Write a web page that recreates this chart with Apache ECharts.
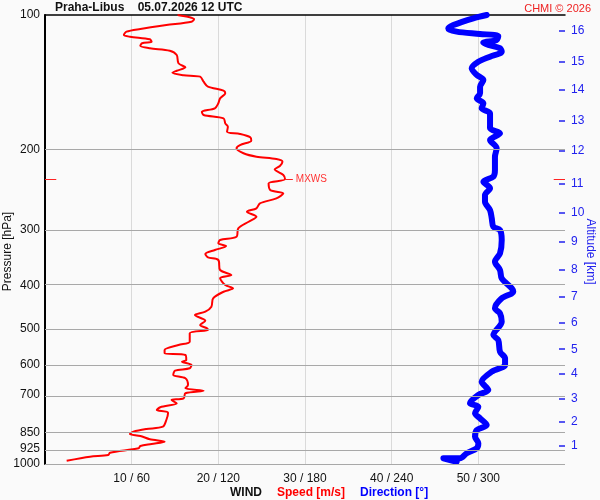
<!DOCTYPE html>
<html>
<head>
<meta charset="utf-8">
<script src="https://cdn.jsdelivr.net/npm/echarts@6.0.0/dist/echarts.min.js"></script>
<style>
  html, body { margin: 0; padding: 0; background: #fafafa; }
  #chart { width: 600px; height: 500px; }
</style>
</head>
<body>
<div id="chart"></div>
<script>
// pressure levels (hPa) shown on the left axis
var pLevels = [100, 200, 300, 400, 500, 600, 700, 850, 925, 1000];
// altitude ticks (km) and their pressure (hPa) for the right axis
var altKm = [1, 2, 3, 4, 5, 6, 7, 8, 9, 10, 11, 12, 13, 14, 15, 16];
var altP = [912, 806, 717, 630, 555, 485, 425, 370, 320, 276, 237, 201, 172, 147, 127, 108.5];
// bottom tick labels
var speedTicks = [10, 20, 30, 40, 50];
var dirTicks = [60, 120, 180, 240, 300];

// wind speed profile
var speedP = [100, 101.2, 102.2, 103.5, 105.3, 107.4, 108.9, 110.8, 111.8, 113.3, 114.7, 115.6, 117.1, 118.6, 120.1, 122.8,
  128.1, 130.8, 133.1, 134.5, 136.2, 137.2, 140.8, 144.4, 147.4, 149.4, 153.3, 157.3, 161.4, 164.2, 167, 169.9,
  174.3, 177.4, 182, 184.1, 187.3, 190.5, 194.8, 198.1, 203.2, 206.8, 209.3, 212.2, 216.9, 220.7, 227.2, 232.3,
  237.1, 245.4, 249.6, 256.1, 262.7, 269.5, 274.3, 281.4, 288.7, 298.7, 311.8, 317.1, 322.5, 327, 333.8, 340.7,
  346.5, 351.3, 369.8, 379.4, 385.9, 399.4, 406.2, 413.4, 427.6, 446.4, 458, 465.9, 479.6, 490.3, 498.7, 503,
  511.6, 534.1, 543.3, 557.4, 567, 571.8, 586.7, 591.8, 601.8, 612.1, 619.7, 633.5, 644.3, 667, 678.3, 686.7,
  695.9, 714, 720.3, 732.5, 747.7, 758.1, 768.7, 798, 825.9, 835.6, 847.2, 857.4, 866.1, 881, 891.8, 902.5,
  911.7, 922.7, 943.6, 954.9, 963.2, 983.3];
var speed = [15.3, 16.7, 17.2, 16.9, 14.0, 11.0, 9.4, 9.1, 9.8, 12.1, 12.3, 11.2, 11.0, 12.1, 14.4, 15.2,
  15.4, 16.2, 15.2, 14.7, 16.0, 17.9, 18.3, 18.8, 20.6, 20.8, 20.2, 20.0, 19.6, 18.1, 18.3, 20.6,
  20.8, 21.1, 21.0, 22.5, 23.7, 23.8, 22.5, 22.1, 22.9, 24.4, 26.7, 27.4, 27.1, 26.5, 27.5, 27.7,
  25.8, 26.0, 27.5, 26.7, 24.8, 24.4, 23.3, 24.4, 23.5, 22.3, 22.1, 20.2, 20.0, 20.9, 19.6, 18.5,
  18.8, 20.0, 20.2, 21.5, 20.2, 20.8, 21.7, 20.6, 19.4, 19.2, 18.5, 17.3, 18.5, 17.9, 18.7, 18.8,
  16.7, 16.7, 15.4, 13.8, 13.8, 16.2, 16.3, 15.8, 16.9, 16.7, 15.0, 14.8, 16.2, 16.5, 16.2, 18.3,
  16.2, 16.0, 14.6, 15.2, 13.3, 12.9, 14.2, 14.0, 13.6, 11.7, 10.2, 9.8, 11.0, 12.1, 13.8, 12.3,
  11.0, 10.8, 7.5, 7.3, 5.2, 2.5];

// wind direction profile
var dirP = [100, 101.7, 105.3, 107.1, 108.9, 110.2, 111.4, 113.7, 115.3, 116.6, 118.6, 120.7, 123.8, 127.1, 131.4, 136,
  139.6, 144.4, 149.4, 153.3, 157.3, 161.4, 165.6, 174.3, 178.8, 183.5, 189.8, 198.1, 206.8, 221.4, 229.1, 235.1,
  243.2, 251.7, 260.5, 271.9, 283.7, 296.3, 301.3, 317.1, 339.5, 354.4, 369.8, 385.9, 406.2, 413.4, 427.6, 450,
  461.7, 482.2, 516.1, 529.5, 562.3, 581.6, 601.8, 622.8, 655.6, 684.3, 702.1, 732.5, 745.4, 771.2, 791.2, 818.7,
  840.1, 869.4, 899.2, 922.5, 946.6, 971.2, 971.2, 979.7, 988.3];
var direction = [305.8, 296.5, 282.7, 279.2, 285.0, 301.2, 313.8, 312.7, 303.4, 306.9, 315.0, 316.2, 308.1, 300.0, 295.4, 298.9,
  303.5, 301.2, 301.2, 298.9, 303.5, 302.3, 308.1, 308.1, 308.1, 315.0, 308.1, 312.7, 311.5, 311.5, 310.4, 303.5,
  308.1, 304.6, 304.6, 308.1, 309.3, 310.4, 315.0, 316.2, 315.0, 311.5, 315.0, 316.2, 323.1, 324.2, 316.2, 311.5,
  315.0, 316.2, 310.4, 313.8, 315.0, 318.5, 318.5, 309.3, 302.3, 306.9, 300.0, 294.2, 300.0, 297.7, 301.2, 305.8,
  298.9, 297.7, 300.0, 298.9, 292.0, 287.3, 275.8, 280.4, 285.0];

var lg = function (p) { return Math.log10(p); };

var chart = echarts.init(document.getElementById('chart'));

var speedData = speed.map(function (s, i) { return [s, lg(speedP[i])]; });
var dirData = direction.map(function (d, i) { return [d, lg(dirP[i])]; });

// maximum wind (MXWS)
var mxIdx = 0;
speed.forEach(function (s, i) { if (s > speed[mxIdx]) mxIdx = i; });
var mxY = lg(speedP[mxIdx]);

var font = 'Arial, "Liberation Sans", sans-serif';

var option = {
  backgroundColor: '#fafafa',
  animation: false,
  textStyle: { fontFamily: font },
  title: [
    {
      text: 'Praha-Libus    05.07.2026 12 UTC',
      left: 50, top: -3,
      textStyle: { fontSize: 12, fontWeight: 'bold', color: '#111', fontFamily: font }
    },
    {
      text: 'CHMI © 2026',
      right: 4, top: -2,
      textStyle: { fontSize: 11, fontWeight: 'normal', color: '#ee2222', fontFamily: font }
    },
    {
      text: '{w|WIND}   {s|Speed [m/s]}   {d|Direction [°]}',
      left: 225, top: 479,
      textStyle: {
        fontFamily: font,
        rich: {
          w: { fontSize: 12, color: '#111', fontFamily: font },
          s: { fontSize: 12, color: '#ff0000', fontFamily: font },
          d: { fontSize: 12, color: '#0000ff', fontFamily: font }
        }
      }
    }
  ],
  grid: { left: 45, right: 35, top: 15, bottom: 36, containLabel: false, outerBoundsMode: 'none' },
  xAxis: [
    {
      type: 'value', min: 0, max: 60, interval: 10,
      axisLine: { show: false, onZero: false },
      axisTick: { show: false },
      axisLabel: {
        color: '#111', fontSize: 12, margin: 9,
        formatter: function (v) {
          var i = speedTicks.indexOf(v);
          return i < 0 ? '' : speedTicks[i] + ' / ' + dirTicks[i];
        }
      },
      splitLine: { show: true, showMinLine: false, showMaxLine: false, lineStyle: { color: '#dadada', width: 1 } }
    },
    {
      type: 'value', min: 0, max: 360, position: 'top',
      axisLine: { show: true, onZero: false, lineStyle: { color: '#000', width: 1.5 } },
      axisTick: { show: false },
      axisLabel: { show: false },
      splitLine: { show: false }
    }
  ],
  yAxis: [
    {
      type: 'value', min: 2, max: 3, inverse: true, position: 'left',
      name: 'Pressure [hPa]', nameLocation: 'middle', nameGap: 31, nameRotate: 90, nameMoveOverlap: false,
      nameTextStyle: { color: '#111', fontSize: 12, fontFamily: font, padding: [0, 24, 0, 0] },
      axisLine: { show: true, onZero: false, lineStyle: { color: '#000', width: 2 } },
      axisTick: { show: false },
      axisLabel: {
        color: '#111', fontSize: 12, margin: 5,
        showMinLabel: true, showMaxLabel: true,
        customValues: pLevels.map(lg),
        formatter: function (v) { return String(Math.round(Math.pow(10, v))); }
      },
      splitLine: { show: false }
    },
    {
      type: 'value', min: 2, max: 3, inverse: true, position: 'right',
      name: 'Altitude [km]', nameLocation: 'middle', nameGap: 19, nameRotate: -90, nameMoveOverlap: false,
      nameTextStyle: { color: '#2222ee', fontSize: 12, fontFamily: font, padding: [0, 0, 0, 24] },
      axisLine: { show: false, onZero: false },
      axisTick: { show: true, inside: true, length: 6, customValues: altP.map(lg), lineStyle: { color: '#2222ee', width: 1.5 } },
      axisLabel: {
        color: '#2222ee', fontSize: 12, margin: 6,
        customValues: altP.map(lg),
        formatter: function (v) {
          for (var i = 0; i < altP.length; i++) {
            if (Math.abs(lg(altP[i]) - v) < 1e-6) return String(altKm[i]);
          }
          return '';
        }
      },
      splitLine: { show: false }
    }
  ],
  series: [
    {
      name: 'grid',
      type: 'line',
      data: [],
      z: 1,
      markLine: {
        silent: true,
        symbol: 'none',
        label: { show: false },
        lineStyle: { color: '#a8a8a8', type: 'solid', width: 1.2 },
        data: pLevels.slice(1).map(function (p) { return { yAxis: lg(p) }; })
      }
    },
    {
      name: 'Direction',
      type: 'line',
      xAxisIndex: 1,
      data: dirData,
      showSymbol: false,
      smooth: 0.3,
      z: 3,
      lineStyle: { color: '#0000ff', width: 6, cap: 'round', join: 'round' }
    },
    {
      name: 'Speed',
      type: 'line',
      data: speedData,
      showSymbol: false,
      smooth: 0.3,
      z: 4,
      lineStyle: { color: '#ff0000', width: 2 },
      markLine: {
        silent: true,
        symbol: 'none',
        lineStyle: { color: '#ff2222', type: 'solid', width: 1 },
        data: [
          [{ coord: [speed[mxIdx], mxY] },
           { coord: [speed[mxIdx] + 0.9, mxY], label: { show: true, position: 'end', formatter: 'MXWS', color: '#ff3333', fontSize: 10, distance: 3 } }],
          [{ coord: [0, mxY], label: { show: false } }, { coord: [1.3, mxY], label: { show: false } }],
          [{ coord: [58.7, mxY], label: { show: false } }, { coord: [60, mxY], label: { show: false } }]
        ],
        label: { show: false }
      }
    }
  ]
};

chart.setOption(option);
</script>
</body>
</html>
